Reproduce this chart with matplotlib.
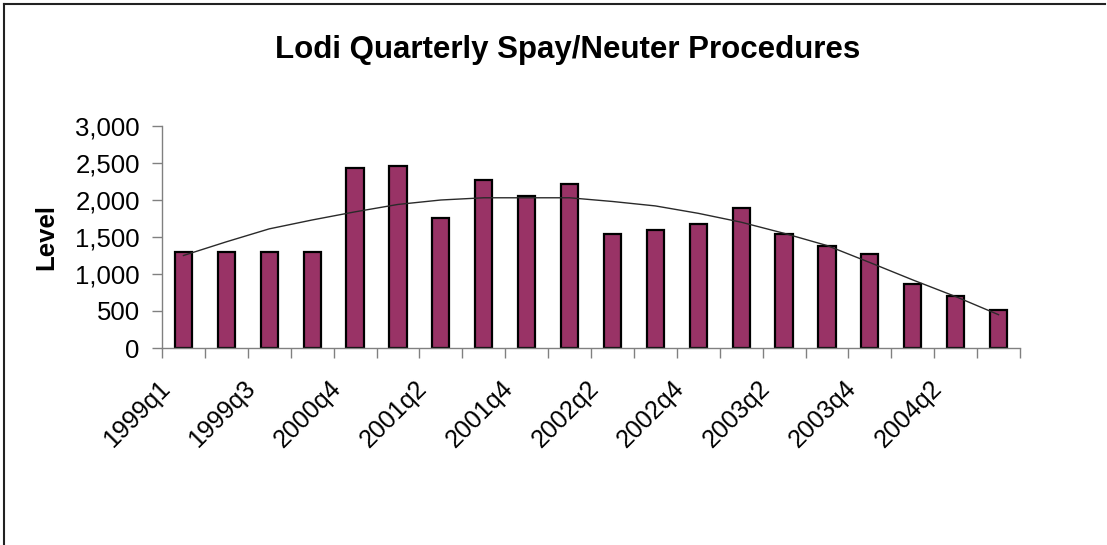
import numpy as np
import matplotlib.pyplot as plt
import matplotlib as mpl
from matplotlib.lines import Line2D
from matplotlib.transforms import ScaledTranslation

mpl.rcParams['font.family'] = ['Liberation Sans', 'DejaVu Sans']

quarters = ["1999q1", "1999q2", "1999q3", "1999q4", "2000q4", "2001q1",
            "2001q2", "2001q3", "2001q4", "2002q1", "2002q2", "2002q3",
            "2002q4", "2003q1", "2003q2", "2003q3", "2003q4", "2004q1",
            "2004q2", "2004q3"]
level = [1300, 1300, 1300, 1300, 2430, 2460, 1760, 2270, 2060, 2215,
         1540, 1595, 1675, 1890, 1540, 1380, 1270, 865, 705, 515]
trend = [1250, 1435, 1610, 1730, 1840, 1940, 2000, 2030, 2030, 2030,
         1980, 1920, 1820, 1700, 1550, 1385, 1155, 920, 695, 450]

fig = plt.figure(figsize=(11.07, 5.45), dpi=100)
ax = fig.add_axes((162/1107, 1 - 348/545, 858/1107, 222/545))

x = np.arange(len(quarters))
ax.bar(x, level, width=0.4, color="#993366", edgecolor="black", lw=1.6, zorder=2)
ax.plot(x, trend, color="#2a2a2a", lw=1.0, zorder=3)

ax.set_xlim(-0.5, len(quarters) - 0.5)
ax.set_ylim(0, 3000)
ax.set_yticks(range(0, 3001, 500))
ax.set_yticklabels([f"{v:,}" for v in range(0, 3001, 500)], fontsize=18.5)

ax.set_xticks(x[::2])
ax.set_xticklabels(quarters[::2], rotation=45, ha="right", va="top", fontsize=18)
ax.set_xticks(np.arange(-0.5, len(quarters)), minor=True)
ax.tick_params(axis="x", which="major", length=0, pad=20)
ax.tick_params(axis="x", which="minor", length=7, width=1, color="#808080", direction="out")
ax.tick_params(axis="y", length=7, width=1, color="#808080", direction="out", pad=9)
shift = ScaledTranslation(-9/100, 0, fig.dpi_scale_trans)
for lab in ax.get_xticklabels():
  lab.set_transform(lab.get_transform() + shift)

for s in ["top", "right"]:
  ax.spines[s].set_visible(False)
for s in ["left", "bottom"]:
  ax.spines[s].set_color("#808080")
  ax.spines[s].set_linewidth(1)

ax.set_ylabel("Level", fontsize=18.5, fontweight="bold")
ax.yaxis.set_label_coords(-104/858, 0.5)

fig.text(568/1107, 1 - 50/545, "Lodi Quarterly Spay/Neuter Procedures",
         ha="center", va="center", fontsize=22.5, fontweight="bold")

# frame of the chart area, only top and left edges show
fig.add_artist(Line2D([4/1107, 1105/1107], [1 - 4/545, 1 - 4/545],
                      transform=fig.transFigure, color="#222222", lw=1.5))
fig.add_artist(Line2D([4/1107, 4/1107], [0, 1 - 4/545],
                      transform=fig.transFigure, color="#222222", lw=1.5))

plt.savefig("out.png", dpi=100)
